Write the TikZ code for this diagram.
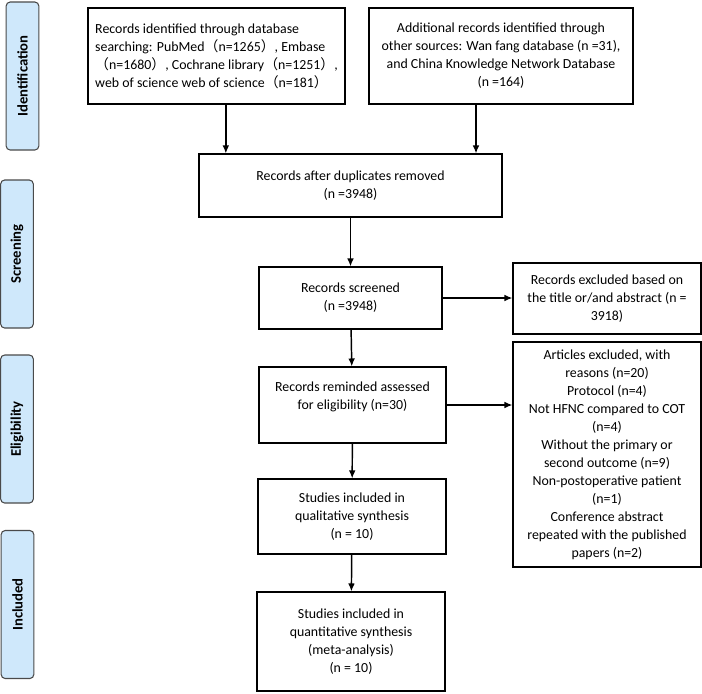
\documentclass[tikz,border=0pt]{standalone}
\usepackage{fontspec}
\setmainfont{Carlito}
\newfontfamily\cjk{Noto Sans CJK SC}
\usetikzlibrary{arrows.meta}
\definecolor{sidefill}{HTML}{CFE8FB}
\definecolor{sideline}{HTML}{4A4A4A}
\newcommand{\lp}{{\cjk （}}
\newcommand{\rp}{{\cjk ）}}
\begin{document}
\begin{tikzpicture}[x=0.75pt,y=-0.75pt,>={Latex[length=6pt,width=5pt]},
    font=\fontsize{10.4}{13.5}\selectfont,
    box/.style={draw,line width=0.8pt,align=center,inner sep=2pt},
    side/.style={draw=sideline,fill=sidefill,rounded corners=3pt,line width=0.8pt,
        rotate=90,minimum width=111pt,minimum height=24.5pt,
        font=\fontsize{11}{13}\selectfont\bfseries},
    flow/.style={->,line width=1.1pt}]
    \useasboundingbox (0,0) rectangle (702,693);
    % stage labels
    \node[side] (sid) at (22.5,76) {Identification};
    \node[side] (sscr) at (17,254) {Screening};
    \node[side] (sel) at (17,429) {Eligibility};
    \node[side] (sinc) at (17.5,604.5) {Included};
    % boxes
    \node[box,align=left,minimum width=192.75pt,minimum height=72pt] (b1) at (216.5,56)
        {Records identified through database\\ searching: PubMed\lp n=1265\rp, Embase\\
         \lp n=1680\rp, Cochrane library\lp n=1251\rp,\\ web of science web of science\lp n=181\rp};
    \node[box,minimum width=198pt,minimum height=72pt] (b2) at (501,56)
        {Additional records identified through\\ other sources: Wan fang database (n =31),\\
         and China Knowledge Network Database\\ (n =164)};
    \node[box,minimum width=227.25pt,minimum height=47.25pt] (b3) at (350.5,185.5)
        {Records after duplicates removed\\ (n =3948)};
    \node[box,minimum width=137.25pt,minimum height=46.5pt] (b4) at (350.5,298)
        {Records screened\\ (n =3948)};
    \node[box,minimum width=141pt,minimum height=53.25pt] (b5) at (607,298.5)
        {Records excluded based on\\ the title or/and abstract (n =\\ 3918)};
    \node[box,minimum width=140.25pt,minimum height=57pt] (b6) at (352.5,405)
        {Records reminded assessed\\ for eligibility (n=30)\\ \mbox{}};
    \node[box,minimum width=141pt,minimum height=168.75pt] (b7) at (607,454.5)
        {Articles excluded, with\\ reasons (n=20)\\ Protocol (n=4)\\ Not HFNC compared to COT\\
         (n=4)\\ Without the primary or\\ second outcome (n=9)\\ Non-postoperative patient\\
         (n=1)\\ Conference abstract\\ repeated with the published\\ papers (n=2)};
    \node[box,minimum width=141pt,minimum height=56.25pt] (b8) at (352,516.5)
        {Studies included in\\ qualitative synthesis\\ (n = 10)};
    \node[box,minimum width=141pt,minimum height=74.25pt] (b9) at (351,641.5)
        {Studies included in\\ quantitative synthesis\\ (meta-analysis)\\ (n = 10)};
    % arrows
    \coordinate (a1) at ([xshift=7pt]b1.south);
    \coordinate (a2) at ([xshift=-18.75pt]b2.south);
    \draw[flow] (a1) -- (a1 |- b3.north);
    \draw[flow] (a2) -- (a2 |- b3.north);
    \draw[flow] (b3) -- (b4);
    \draw[flow] (b4.east) -- (b4.east -| b5.west);
    \draw[flow] (b4) -- (b6);
    \draw[flow] (b6.east) -- (b6.east -| b7.west);
    \draw[flow] (b6) -- (b8);
    \draw[flow] (b8) -- (b9);
\end{tikzpicture}
\end{document}
